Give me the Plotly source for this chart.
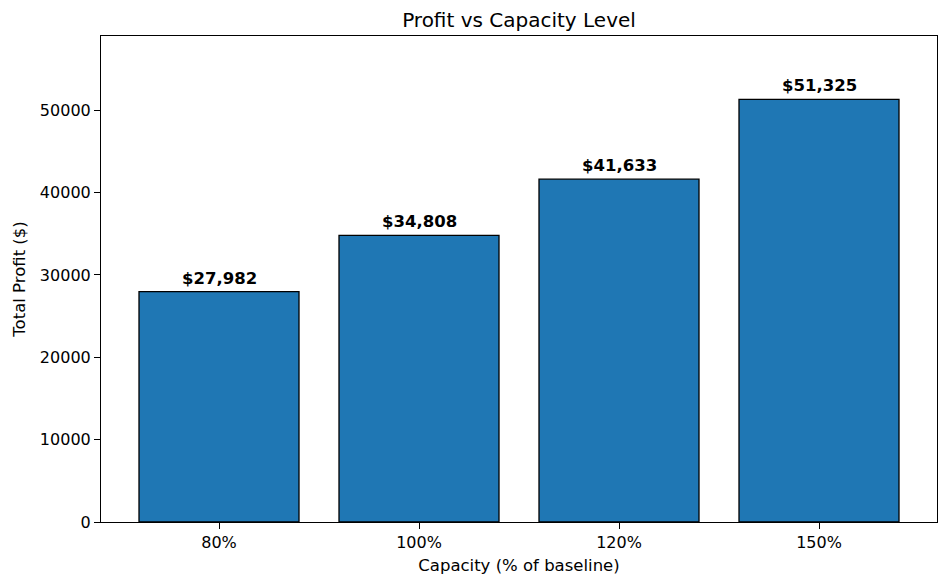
import plotly.graph_objects as go

capacity = ["80%", "100%", "120%", "150%"]
profit = [27982, 34808, 41633, 51325]
labels = ["$27,982", "$34,808", "$41,633", "$51,325"]

font = "DejaVu Sans"

# page body has ~8px margin, so the figure is sized to land in the same spot
W, H = 941, 580

fig = go.Figure()
fig.add_trace(go.Bar(
    x=list(range(len(capacity))),
    y=profit,
    width=0.8,
    marker=dict(color="#1f77b4", line=dict(color="black", width=1.3)),
    hoverinfo="skip",
))

for i, (v, t) in enumerate(zip(profit, labels)):
    fig.add_annotation(x=i, y=v, text="<b>%s</b>" % t, showarrow=False,
                       yanchor="bottom", yshift=2,
                       font=dict(family=font, size=16.5, color="black"))

axis_style = dict(showline=True, linecolor="black", linewidth=1.1, mirror=True,
                  ticks="outside", ticklen=6, tickcolor="black", tickwidth=1.1,
                  showgrid=False, zeroline=False,
                  tickfont=dict(family=font, size=16, color="black"))

fig.update_layout(
    width=W, height=H,
    margin=dict(l=93, r=12, t=28, b=66, autoexpand=False),
    plot_bgcolor="white", paper_bgcolor="white",
    showlegend=False,
    title=dict(text="Profit vs Capacity Level", x=0.5, xanchor="center",
               xref="paper", y=1 - 12 / H, yanchor="middle",
               font=dict(family=font, size=20, color="black")),
    xaxis=dict(axis_style, range=[-0.59, 3.59], tickvals=list(range(len(capacity))),
               ticktext=capacity,
               title=dict(text="Capacity (% of baseline)", standoff=8,
                          font=dict(family=font, size=16.5, color="black"))),
    yaxis=dict(axis_style, range=[0, max(profit) * 1.15], tickformat="d",
               dtick=10000,
               title=dict(text="Total Profit ($)", standoff=10,
                          font=dict(family=font, size=16.5, color="black"))),
)

fig.write_html("out.html")
